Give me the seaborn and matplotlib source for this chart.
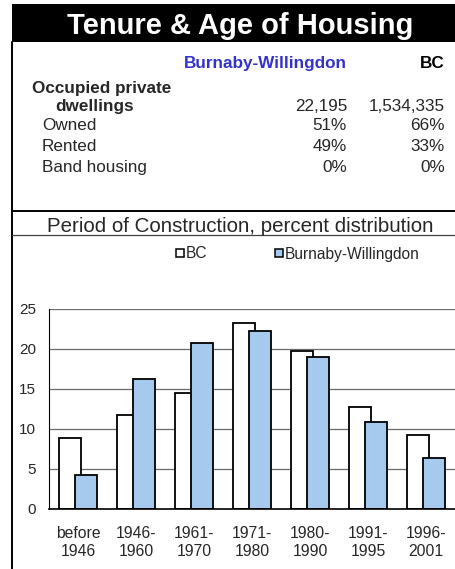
import numpy as np
import pandas as pd
import matplotlib
matplotlib.use("Agg")
from matplotlib import pyplot as plt
from matplotlib.patches import Rectangle
from matplotlib.lines import Line2D
import seaborn as sns

# Period of construction, percent distribution
periods = ["before\n1946", "1946-\n1960", "1961-\n1970", "1971-\n1980",
           "1980-\n1990", "1991-\n1995", "1996-\n2001"]
bc_pct = [8.9, 11.7, 14.5, 23.2, 19.75, 12.7, 9.3]
bw_pct = [4.3, 16.25, 20.8, 22.2, 19.0, 10.9, 6.4]

# Tenure table
area_names = ["Burnaby-Willingdon", "BC"]
dwellings = ["22,195", "1,534,335"]
tenure_rows = ["Owned", "Rented", "Band housing"]
bw_tenure = ["51%", "49%", "0%"]
bc_tenure = ["66%", "33%", "0%"]

BW_BLUE = "#a6c9ee"

sns.set_style("white")
plt.rcParams["font.family"] = ["Liberation Sans", "DejaVu Sans"]

W, H = 455.0, 569.0
fx = lambda px: px / W
fy = lambda px: 1 - px / H

fig = plt.figure(figsize=(4.55, 5.69), dpi=100)

# frame bits
fig.add_artist(Rectangle((fx(11.5), fy(42)), 1 - fx(11.5), 38 / H,
                         transform=fig.transFigure, color="black", lw=0))
fig.add_artist(Line2D([fx(12), fx(12)], [fy(42), 0], transform=fig.transFigure, color="black", lw=1.4))
fig.add_artist(Line2D([fx(12), 1], [fy(210.7), fy(210.7)], transform=fig.transFigure, color="black", lw=1.4))
fig.add_artist(Line2D([fx(12), 1], [fy(235), fy(235)], transform=fig.transFigure, color="#404040", lw=0.9))

fig.text(fx(240), fy(34), "Tenure & Age of Housing", color="white", fontsize=21,
         fontweight="bold", ha="center", va="baseline")

# table
fs = 12.3
fig.text(fx(347), fy(67.7), area_names[0], color="#3333cc", fontsize=fs, fontweight="bold", ha="right", va="baseline")
fig.text(fx(445), fy(67.7), area_names[1], color="black", fontsize=fs, fontweight="bold", ha="right", va="baseline")
fig.text(fx(32), fy(92.7), "Occupied private", fontsize=fs, fontweight="bold", va="baseline")
fig.text(fx(55), fy(111), "dwellings", fontsize=fs, fontweight="bold", va="baseline")
fig.text(fx(347), fy(111), dwellings[0], fontsize=fs, ha="right", va="baseline")
fig.text(fx(445), fy(111), dwellings[1], fontsize=fs, ha="right", va="baseline")
for i, (lab, a, b) in enumerate(zip(tenure_rows, bw_tenure, bc_tenure)):
    y = fy(130 + i * 20.8)
    fig.text(fx(42), y, lab, fontsize=fs, va="baseline")
    fig.text(fx(347), y, a, fontsize=fs, ha="right", va="baseline")
    fig.text(fx(445), y, b, fontsize=fs, ha="right", va="baseline")

fig.text(fx(240), fy(231.5), "Period of Construction, percent distribution",
         fontsize=14.8, ha="center", va="baseline")

# chart
ax = fig.add_axes([fx(49), fy(509), 406 / W, 200 / H])
pos = np.arange(len(periods))
bc = pd.DataFrame({"pos": pos - 0.13, "pct": bc_pct})
bw = pd.DataFrame({"pos": pos + 0.14, "pct": bw_pct})
sns.barplot(data=bc, x="pos", y="pct", native_scale=True, width=0.38, color="white",
            saturation=1, edgecolor="black", linewidth=1.3, ax=ax, errorbar=None)
sns.barplot(data=bw, x="pos", y="pct", native_scale=True, width=0.38, color=BW_BLUE,
            saturation=1, edgecolor="black", linewidth=1.3, ax=ax, errorbar=None)

ax.set_xlim(-0.5, 6.5)
ax.set_ylim(0, 25)
ax.set_yticks([0, 5, 10, 15, 20, 25])
ax.set_xticks(pos)
ax.set_xticklabels(periods, linespacing=1.25)
ax.set_xlabel("")
ax.set_ylabel("")
ax.yaxis.grid(True, color="#6a6a6a", lw=0.9)
ax.set_axisbelow(True)
sns.despine(ax=ax, top=True, right=True)
ax.spines["left"].set_color("black")
ax.spines["bottom"].set_color("black")
ax.spines["bottom"].set_linewidth(1.2)
ax.tick_params(axis="x", length=0, labelsize=11.3, pad=12)
ax.tick_params(axis="y", length=0, labelsize=11, pad=9.5)

handles = [Line2D([], [], ls="none", marker="s", markersize=5.3, markerfacecolor=c,
                  markeredgecolor="black", markeredgewidth=1.1)
           for c in ["white", BW_BLUE]]
ax.legend(handles, ["BC", "Burnaby-Willingdon"], loc="center",
          bbox_to_anchor=(fx(298), fy(254)), bbox_transform=fig.transFigure,
          ncol=2, frameon=False, fontsize=11.2, handlelength=0.5,
          handletextpad=0.1, columnspacing=4.4, borderaxespad=0)

fig.savefig("out.png", dpi=100)
